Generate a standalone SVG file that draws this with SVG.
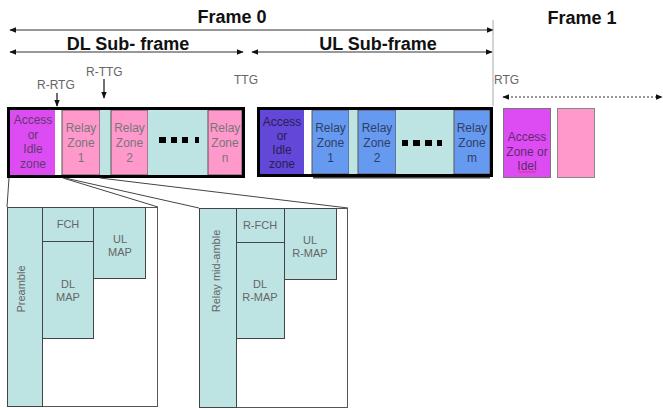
<svg xmlns="http://www.w3.org/2000/svg" width="663" height="410" viewBox="0 0 663 410">
  <defs>
    <marker id="ah" viewBox="0 0 10 10" refX="9" refY="5" markerWidth="7" markerHeight="7" markerUnits="userSpaceOnUse" orient="auto-start-reverse">
      <path d="M0,1 L10,5 L0,9 z" fill="#111"/>
    </marker>
    <style>
      .title { font-family: "Liberation Sans", Arial, sans-serif; font-weight: bold; font-size: 18px; fill: #111; }
      .lbl { font-family: "Liberation Sans", Arial, sans-serif; font-size: 12px; fill: #666; }
      .zt { font-family: "Liberation Sans", Arial, sans-serif; font-size: 12px; text-anchor: middle; }
      .dt { font-family: "Liberation Sans", Arial, sans-serif; font-size: 11px; text-anchor: middle; fill: #666; }
      .span { stroke: #333; stroke-width: 1.2; fill: none; marker-start: url(#ah); marker-end: url(#ah); }
      .zone { stroke: #555; stroke-width: 1; }
      .mag { fill: #dd4cf2; }
      .pink { fill: #ff99cc; }
      .teal { fill: #bde3e3; }
      .dpur { fill: #6347d9; }
      .blue { fill: #6699f0; }
      .frame { fill: none; stroke: #000; stroke-width: 3; }
      .dot { fill: #000; }
      .sub { fill: #bde3e3; stroke: #444; stroke-width: 1; }
      .subbox { fill: #fff; stroke: #555; stroke-width: 1; }
      .conn { stroke: #444; stroke-width: 1; fill: none; }
    </style>
  </defs>

  <!-- frame titles and spans -->
  <g id="spans">
    <text class="title" x="232" y="23" text-anchor="middle">Frame 0</text>
    <text class="title" x="582" y="24" text-anchor="middle">Frame 1</text>
    <line class="span" x1="10" y1="30" x2="493" y2="30"/>
    <text class="title" x="128" y="50" text-anchor="middle">DL Sub- frame</text>
    <line class="span" x1="10" y1="52" x2="243" y2="52"/>
    <text class="title" x="378" y="50" text-anchor="middle">UL Sub-frame</text>
    <line class="span" x1="252" y1="52" x2="492" y2="52"/>
    <line x1="493" y1="20" x2="493" y2="106" stroke="#aaa" stroke-width="1"/>
    <line x1="503" y1="97" x2="662" y2="97" stroke="#333" stroke-width="1.2" stroke-dasharray="2,2" marker-start="url(#ah)" marker-end="url(#ah)"/>
  </g>

  <!-- gap labels -->
  <g id="gaps">
    <text class="lbl" x="37" y="89">R-RTG</text>
    <line x1="57" y1="93" x2="57" y2="106" stroke="#111" stroke-width="1.2" marker-end="url(#ah)"/>
    <text class="lbl" x="86" y="76">R-TTG</text>
    <line x1="104" y1="79" x2="104" y2="98" stroke="#111" stroke-width="1.2" marker-end="url(#ah)"/>
    <text class="lbl" x="234" y="84">TTG</text>
    <text class="lbl" x="494" y="84" font-size="11">RTG</text>
  </g>

  <!-- downlink sub-frame -->
  <g id="dl-subframe">
    <rect x="10" y="110" width="45" height="65" class="mag"/>
    <rect x="55" y="110" width="7" height="65" fill="#fff"/>
    <rect x="62" y="110" width="38" height="65" class="pink zone"/>
    <rect x="100" y="110" width="11" height="65" class="teal"/>
    <rect x="111" y="110" width="37" height="65" class="pink zone"/>
    <rect x="148" y="110" width="60" height="65" class="teal"/>
    <rect x="208" y="110" width="34" height="65" class="pink zone"/>
    <rect x="8.5" y="108.5" width="235" height="68" class="frame"/>
    <g class="zt" fill="#5e3a6e">
      <text x="33" y="124">Access</text>
      <text x="33" y="138.7">or</text>
      <text x="33" y="153.3">Idle</text>
      <text x="33" y="168">zone</text>
    </g>
    <g class="zt" fill="#777">
      <text x="81" y="132">Relay</text>
      <text x="81" y="147">Zone</text>
      <text x="81" y="162">1</text>
      <text x="129.5" y="132">Relay</text>
      <text x="129.5" y="147">Zone</text>
      <text x="129.5" y="162">2</text>
      <text x="225" y="132">Relay</text>
      <text x="225" y="147">Zone</text>
      <text x="225" y="162">n</text>
    </g>
    <rect class="dot" x="159" y="137" width="7" height="6"/>
    <rect class="dot" x="171" y="137" width="6" height="6"/>
    <rect class="dot" x="182" y="137" width="6" height="6"/>
    <rect class="dot" x="195" y="137" width="4" height="6"/>
  </g>

  <!-- uplink sub-frame -->
  <g id="ul-subframe">
    <line x1="313" y1="177.5" x2="490" y2="177.5" stroke="#444" stroke-width="2"/>
    <rect x="260" y="110" width="44" height="64" class="dpur"/>
    <rect x="304" y="110" width="8" height="64" fill="#fff"/>
    <rect x="312" y="110" width="37" height="64" class="blue zone"/>
    <rect x="349" y="110" width="9" height="64" class="teal"/>
    <rect x="358" y="110" width="38" height="64" class="blue zone"/>
    <rect x="396" y="110" width="58" height="64" class="teal"/>
    <rect x="454" y="110" width="36" height="64" class="blue zone"/>
    <rect x="258.5" y="108.5" width="233" height="67" class="frame"/>
    <g class="zt" fill="#2a2050">
      <text x="282" y="126">Access</text>
      <text x="282" y="140">or</text>
      <text x="282" y="154">Idle</text>
      <text x="282" y="168">zone</text>
    </g>
    <g class="zt" fill="#2f3f66">
      <text x="330.5" y="132">Relay</text>
      <text x="330.5" y="147">Zone</text>
      <text x="330.5" y="162">1</text>
      <text x="377" y="132">Relay</text>
      <text x="377" y="147">Zone</text>
      <text x="377" y="162">2</text>
      <text x="472" y="132">Relay</text>
      <text x="472" y="147">Zone</text>
      <text x="472" y="162">m</text>
    </g>
    <rect class="dot" x="402" y="140" width="6" height="6"/>
    <rect class="dot" x="413" y="140" width="7" height="6"/>
    <rect class="dot" x="425" y="140" width="7" height="6"/>
    <rect class="dot" x="437" y="140" width="5" height="6"/>
  </g>

  <!-- next frame -->
  <g id="frame1">
    <rect x="503.5" y="108.5" width="47" height="69" class="mag" stroke="#777" stroke-width="1"/>
    <rect x="557.5" y="108.5" width="37" height="69" class="pink" stroke="#888" stroke-width="1"/>
    <g class="zt" fill="#5e2a70">
      <text x="527" y="141">Access</text>
      <text x="527" y="155.5">Zone or</text>
      <text x="527" y="170">Idel</text>
    </g>
    <path d="M518,172.5 l1.5,-1 l1.5,1 l1.5,-1 l1.5,1 l1.5,-1 l1.5,1 l1.5,-1 l1.5,1 l1.5,-1 l1.5,1 l1.5,-1 l1.5,1" fill="none" stroke="#e03030" stroke-width="0.8"/>
  </g>

  <!-- zoom connectors -->
  <g id="connectors">
    <line class="conn" x1="9" y1="178" x2="7" y2="207"/>
    <line class="conn" x1="63" y1="178" x2="158" y2="207"/>
    <line class="conn" x1="65" y1="178" x2="199" y2="208"/>
    <line class="conn" x1="100" y1="178" x2="348" y2="208"/>
  </g>

  <!-- access zone detail -->
  <g id="access-detail">
    <rect x="7.5" y="207.5" width="150" height="199" class="subbox"/>
    <rect x="7.5" y="207.5" width="35" height="199" class="sub"/>
    <rect x="42.5" y="207.5" width="51" height="34" class="sub"/>
    <rect x="42.5" y="241.5" width="51" height="97" class="sub"/>
    <rect x="93.5" y="207.5" width="52" height="71" class="sub"/>
    <g class="dt">
      <text x="68" y="228">FCH</text>
      <text x="120" y="243">UL</text>
      <text x="120" y="256">MAP</text>
      <text x="68" y="288">DL</text>
      <text x="68" y="301">MAP</text>
      <text transform="translate(25,289) rotate(-90)">Preamble</text>
    </g>
  </g>

  <!-- relay zone detail -->
  <g id="relay-detail">
    <rect x="199.5" y="208.5" width="148" height="199" class="subbox"/>
    <rect x="199.5" y="208.5" width="37" height="199" class="sub"/>
    <rect x="236.5" y="208.5" width="48" height="34" class="sub"/>
    <rect x="236.5" y="242.5" width="48" height="96" class="sub"/>
    <rect x="284.5" y="208.5" width="52" height="71" class="sub"/>
    <g class="dt">
      <text x="260" y="229">R-FCH</text>
      <text x="310" y="244">UL</text>
      <text x="310" y="257">R-MAP</text>
      <text x="260" y="288">DL</text>
      <text x="260" y="301">R-MAP</text>
      <text transform="translate(220,271) rotate(-90)">Relay mid-amble</text>
    </g>
  </g>
</svg>
